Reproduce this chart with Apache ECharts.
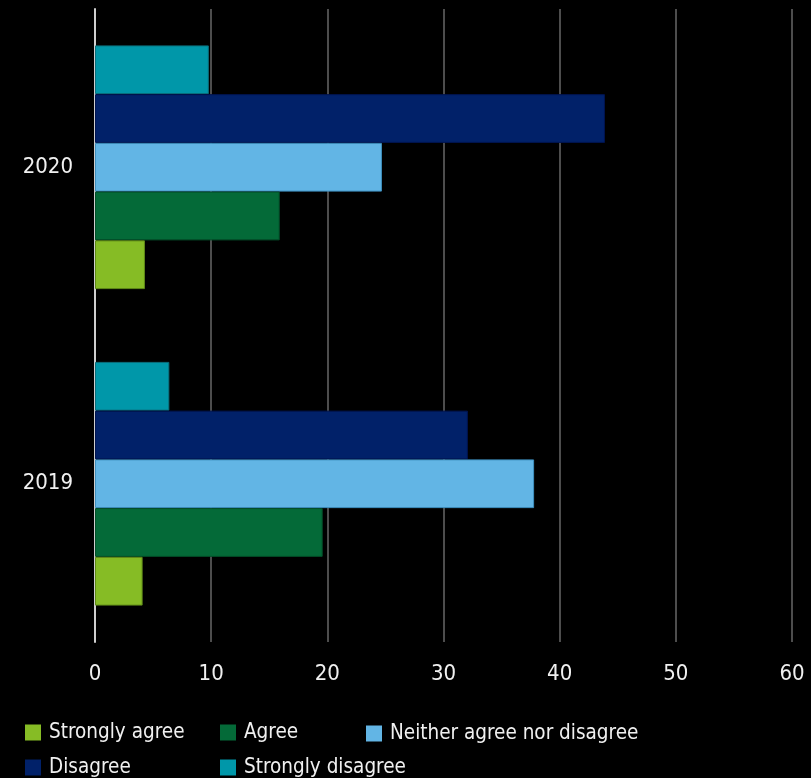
<!DOCTYPE html>
<html>
<head>
<meta charset="utf-8">
<style>
  html, body { margin: 0; padding: 0; background: #000; }
  #chart { width: 811px; height: 778px; }
</style>
<script src="https://cdn.jsdelivr.net/npm/echarts@6/dist/echarts.min.js"></script>
</head>
<body>
<div id="chart"></div>
<script>
// Survey responses by year (percent)
const years = ['2019', '2020'];
const seriesNames = ['Strongly agree', 'Agree', 'Neither agree nor disagree', 'Disagree', 'Strongly disagree'];
const stronglyAgree = [4.1, 4.3];
const agree = [19.6, 15.9];
const neither = [37.8, 24.7];
const disagree = [32.1, 43.9];
const stronglyDisagree = [6.4, 9.8];
const xTicks = [0, 10, 20, 30, 40, 50, 60];

const colors = ['#86BC25', '#046A38', '#62B5E5', '#012169', '#0097A9'];
const borders = ['#5f8a18', '#03502a', '#3d8fbf', '#001450', '#0b6e7c'];
const values = [stronglyAgree, agree, neither, disagree, stronglyDisagree];

const FONT = '"DejaVu Sans Condensed", "DejaVu Sans", Verdana, sans-serif';

// Legend entries laid out in two rows
const legendSpots = [
  { left: 25, top: 722 },
  { left: 220, top: 722 },
  { left: 366, top: 723 },
  { left: 25, top: 757 },
  { left: 220, top: 757 }
];

// Bars stack downward from the top of each band: strongly disagree first
const drawOrder = [4, 3, 2, 1, 0];

const chart = echarts.init(document.getElementById('chart'));
chart.setOption({
  backgroundColor: '#000000',
  animation: false,
  grid: { left: 95, right: 19, top: 9, bottom: 136, containLabel: false },
  legend: seriesNames.map((name, i) => ({
    data: [name],
    left: legendSpots[i].left,
    top: legendSpots[i].top,
    padding: 0,
    itemWidth: 16,
    itemHeight: 16,
    icon: 'rect',
    selectedMode: false,
    itemStyle: { borderWidth: 0 },
    textStyle: { color: '#f0f0f0', fontSize: 20.5, fontFamily: FONT, padding: [0, 0, 0, 3] }
  })),
  xAxis: {
    type: 'value',
    min: xTicks[0],
    max: xTicks[xTicks.length - 1],
    interval: xTicks[1] - xTicks[0],
    axisLine: { show: false },
    axisTick: { show: false },
    splitLine: { show: true, lineStyle: { color: '#4d4d4d', width: 2 } },
    axisLabel: { color: '#f0f0f0', fontSize: 22, fontFamily: FONT, margin: 21 }
  },
  yAxis: {
    type: 'category',
    data: years,
    axisLine: { show: true, lineStyle: { color: '#cfcfcf', width: 2 } },
    axisTick: { show: false },
    axisLabel: { color: '#f0f0f0', fontSize: 22, fontFamily: FONT, margin: 22 }
  },
  series: drawOrder.map((i) => ({
    name: seriesNames[i],
    type: 'bar',
    data: values[i],
    barGap: '0%',
    barCategoryGap: '23%',
    itemStyle: { color: colors[i], borderColor: borders[i], borderWidth: 1 }
  }))
});
</script>
</body>
</html>
